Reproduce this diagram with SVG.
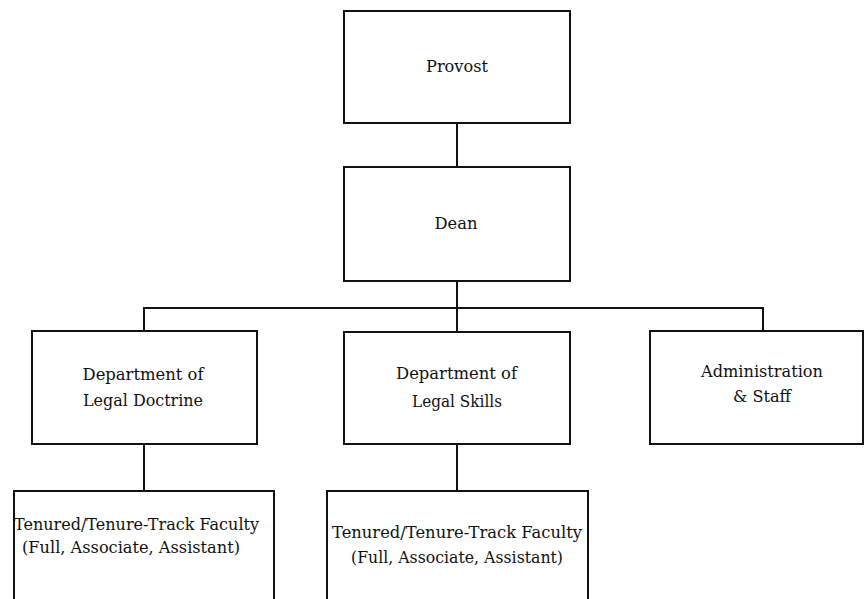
<svg xmlns="http://www.w3.org/2000/svg" width="864" height="599" viewBox="0 0 864 599">
<style>
.box{fill:#fff;stroke:#111;stroke-width:2}
.ln{stroke:#111;stroke-width:2;fill:none}
.t{font-family:'DejaVu Serif','Liberation Serif',serif;font-size:17px;fill:#111;text-anchor:middle}
</style>
<rect width="864" height="599" fill="#fff"/>
<g id="connectors">
<line class="ln" x1="457" y1="123" x2="457" y2="167"/>
<line class="ln" x1="457" y1="281" x2="457" y2="332"/>
<line class="ln" x1="144" y1="308" x2="763" y2="308"/>
<line class="ln" x1="144" y1="307" x2="144" y2="331"/>
<line class="ln" x1="763" y1="307" x2="763" y2="331"/>
<line class="ln" x1="144" y1="444" x2="144" y2="491"/>
<line class="ln" x1="457" y1="444" x2="457" y2="491"/>
</g>
<g id="provost">
<rect class="box" x="344" y="11" width="226" height="112"/>
<text class="t" x="457" y="72" textLength="62" lengthAdjust="spacingAndGlyphs">Provost</text>
</g>
<g id="dean">
<rect class="box" x="344" y="167" width="226" height="114"/>
<text class="t" x="456" y="229" textLength="43" lengthAdjust="spacingAndGlyphs">Dean</text>
</g>
<g id="dept-doctrine">
<rect class="box" x="32" y="331" width="225" height="113"/>
<text class="t" x="143" y="380" textLength="121" lengthAdjust="spacingAndGlyphs">Department of</text>
<text class="t" x="143" y="406" textLength="120" lengthAdjust="spacingAndGlyphs">Legal Doctrine</text>
</g>
<g id="dept-skills">
<rect class="box" x="344" y="332" width="226" height="112"/>
<text class="t" x="456.5" y="379" textLength="121" lengthAdjust="spacingAndGlyphs">Department of</text>
<text class="t" x="457" y="407" textLength="90" lengthAdjust="spacingAndGlyphs">Legal Skills</text>
</g>
<g id="admin">
<rect class="box" x="650" y="331" width="213" height="113"/>
<text class="t" x="762" y="377" textLength="122" lengthAdjust="spacingAndGlyphs">Administration</text>
<text class="t" x="762" y="402" textLength="58" lengthAdjust="spacingAndGlyphs">&amp; Staff</text>
</g>
<g id="faculty-doctrine">
<rect class="box" x="14" y="491" width="260" height="120"/>
<text class="t" x="136.5" y="530" textLength="245" lengthAdjust="spacingAndGlyphs">Tenured/Tenure-Track Faculty</text>
<text class="t" x="131" y="553" textLength="218" lengthAdjust="spacingAndGlyphs">(Full, Associate, Assistant)</text>
</g>
<g id="faculty-skills">
<rect class="box" x="327" y="491" width="261" height="120"/>
<text class="t" x="457" y="538" textLength="250" lengthAdjust="spacingAndGlyphs">Tenured/Tenure-Track Faculty</text>
<text class="t" x="457" y="563" textLength="212" lengthAdjust="spacingAndGlyphs">(Full, Associate, Assistant)</text>
</g>
</svg>
